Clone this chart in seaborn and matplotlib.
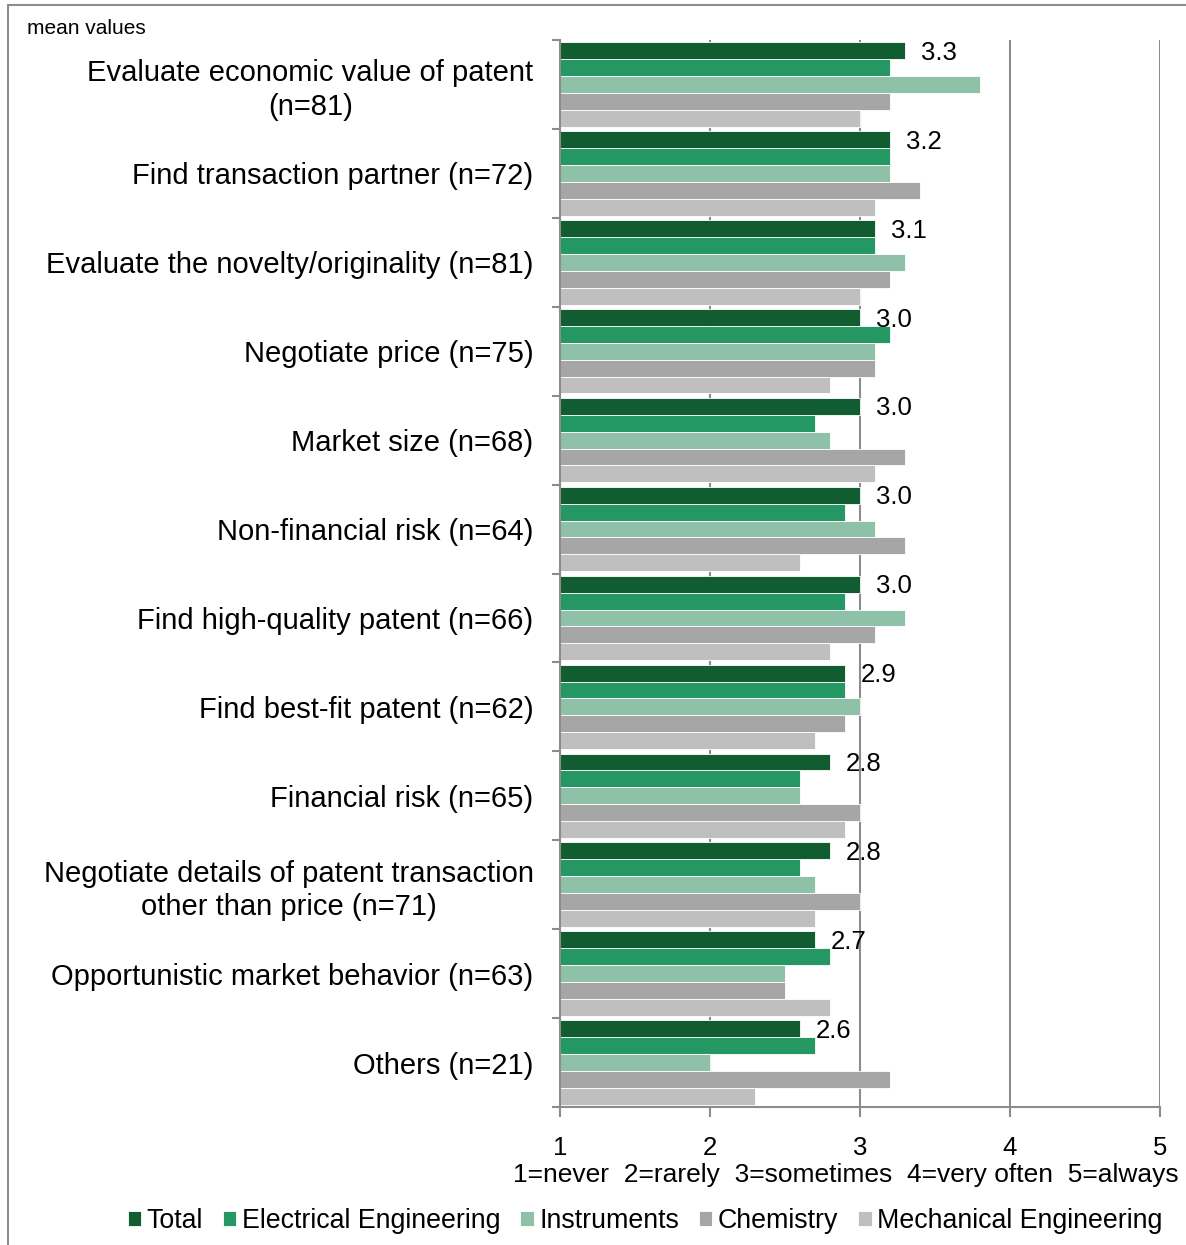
import numpy as np
import pandas as pd
import matplotlib
matplotlib.use("Agg")
import matplotlib.pyplot as plt
import seaborn as sns
from matplotlib.lines import Line2D
from matplotlib.ticker import FixedLocator

categories = [
    "Evaluate economic value of patent\n(n=81)",
    "Find transaction partner (n=72)",
    "Evaluate the novelty/originality (n=81)",
    "Negotiate price (n=75)",
    "Market size (n=68)",
    "Non-financial risk (n=64)",
    "Find high-quality patent (n=66)",
    "Find best-fit patent (n=62)",
    "Financial risk (n=65)",
    "Negotiate details of patent transaction\nother than price (n=71)",
    "Opportunistic market behavior (n=63)",
    "Others (n=21)",
]
series = ["Total", "Electrical Engineering", "Instruments", "Chemistry", "Mechanical Engineering"]
total = [3.3, 3.2, 3.1, 3.0, 3.0, 3.0, 3.0, 2.9, 2.8, 2.8, 2.7, 2.6]
electrical = [3.2, 3.2, 3.1, 3.2, 2.7, 2.9, 2.9, 2.9, 2.6, 2.6, 2.8, 2.7]
instruments = [3.8, 3.2, 3.3, 3.1, 2.8, 3.1, 3.3, 3.0, 2.6, 2.7, 2.5, 2.0]
chemistry = [3.2, 3.4, 3.2, 3.1, 3.3, 3.3, 3.1, 2.9, 3.0, 3.0, 2.5, 3.2]
mechanical = [3.0, 3.1, 3.0, 2.8, 3.1, 2.6, 2.8, 2.7, 2.9, 2.7, 2.8, 2.3]
x_ticks = [1, 2, 3, 4, 5]
scale_text = "1=never  2=rarely  3=sometimes  4=very often  5=always"
colors = ["#115C30", "#249763", "#8FC0A8", "#A6A6A6", "#BFBFBF"]

values = [total, electrical, instruments, chemistry, mechanical]
rows = []
for s, vals in zip(series, values):
    for c, v in zip(categories, vals):
        rows.append({"category": c, "series": s, "value": v})
df = pd.DataFrame(rows)

sns.set_style("white")
plt.rcParams["font.family"] = ["Liberation Sans", "DejaVu Sans"]
plt.rcParams["text.color"] = "black"
plt.rcParams["xtick.labelcolor"] = "black"
plt.rcParams["ytick.labelcolor"] = "black"
plt.rcParams["axes.labelcolor"] = "black"

GRAY = "#8C8C8C"
fig = plt.figure(figsize=(11.86, 12.45), dpi=100)
ax = fig.add_axes([560 / 1186, 1 - 1107 / 1245, 600 / 1186, 1067 / 1245])

sns.barplot(data=df, y="category", x="value", hue="series", order=categories,
            hue_order=series, palette=colors, orient="h", width=0.95,
            edgecolor="white", linewidth=0.6, saturation=1, ax=ax)

ax.set_xlim(1, 5)
ax.set_ylim(len(categories) - 0.5, -0.5)
ax.set_axisbelow(True)
ax.xaxis.set_major_locator(FixedLocator(x_ticks))
ax.set_xticklabels([str(t) for t in x_ticks])
ax.grid(axis="x", color=GRAY, linewidth=1.5)
ax.grid(axis="y", visible=False)

for side in ["top", "right"]:
    ax.spines[side].set_visible(False)
for side in ["left", "bottom"]:
    ax.spines[side].set_color(GRAY)
    ax.spines[side].set_linewidth(1.5)

ax.tick_params(axis="x", direction="out", length=7, width=1.5, color=GRAY,
               labelsize=18.5, pad=14, bottom=True, labelcolor="black")
ax.tick_params(axis="y", which="major", length=0, labelsize=21, pad=19,
               labelcolor="black")
ax.yaxis.set_minor_locator(FixedLocator(np.arange(-0.5, len(categories), 1.0)))
ax.tick_params(axis="y", which="minor", direction="out", length=6, width=1.5,
               color=GRAY, left=True)
for lbl in ax.get_yticklabels():
    lbl.set_multialignment("center")
    lbl.set_linespacing(1.25)

ax.set_ylabel("")
ax.set_xlabel(scale_text, fontsize=19, color="black")
ax.xaxis.label.set_va("center")
ax.xaxis.set_label_coords((846 - 560) / 600, (1107 - 1175) / 1067)

# value labels for Total
for bar, v in zip(ax.containers[0], total):
    ax.annotate(f"{v:.1f}", (bar.get_width(), bar.get_y() + bar.get_height() / 2),
                xytext=(11.5, -1.5), textcoords="offset points", ha="left",
                va="center", fontsize=18.5, color="black")

handles, labels = ax.get_legend_handles_labels()
if ax.get_legend() is not None:
    ax.get_legend().remove()
fig.legend(handles, labels, loc="center", ncol=5, frameon=False, fontsize=19.3,
           bbox_to_anchor=(645 / 1186, 1 - 1221 / 1245), handlelength=0.5,
           handleheight=0.5, handletextpad=0.2, columnspacing=0.75)

fig.text(27 / 1186, 1 - 28 / 1245, "mean values", fontsize=15, ha="left", va="center")

# outer chart-area border (top and left visible)
fig.add_artist(Line2D([8 / 1186, 1.0], [1 - 5 / 1245, 1 - 5 / 1245],
                      transform=fig.transFigure, color=GRAY, linewidth=1.5))
fig.add_artist(Line2D([8 / 1186, 8 / 1186], [0, 1 - 5 / 1245],
                      transform=fig.transFigure, color=GRAY, linewidth=1.5))

fig.savefig("out.png", dpi=100)
